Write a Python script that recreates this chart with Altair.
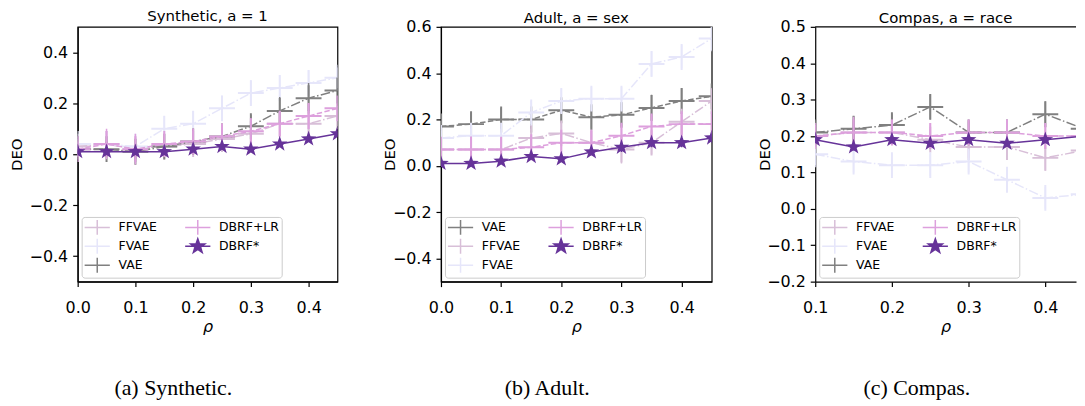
import math
import altair as alt
import pandas as pd

SERIES = ["FFVAE", "FVAE", "VAE", "DBRF+LR", "DBRF*"]
COLORS = ["#D8BFD8", "#E6E6FA", "#808080", "#DDA0DD", "#663399"]

RHO_AB = [0.0, 0.05, 0.1, 0.15, 0.2, 0.25, 0.3, 0.35, 0.4, 0.45]
RHO_C = [0.1, 0.15, 0.2, 0.25, 0.3, 0.35, 0.4, 0.45]

# Synthetic, a = 1
SYN_FFVAE = [0.03, 0.04, 0.02, 0.03, 0.04, 0.06, 0.08, 0.12, 0.12, 0.15]
SYN_FVAE = [0.04, 0.04, 0.03, 0.10, 0.12, 0.18, 0.24, 0.26, 0.28, 0.30]
SYN_VAE = [0.02, 0.02, 0.01, 0.03, 0.05, 0.07, 0.11, 0.17, 0.22, 0.25]
SYN_LR = [0.02, 0.04, 0.02, 0.04, 0.05, 0.07, 0.09, 0.12, 0.15, 0.18]
SYN_DBRF = [0.01, 0.01, 0.01, 0.01, 0.02, 0.03, 0.02, 0.04, 0.06, 0.08]
SYN_FFVAE_E = [0.03, 0.05, 0.04, 0.03, 0.03, 0.04, 0.04, 0.05, 0.05, 0.04]
SYN_FVAE_E = [0.03, 0.03, 0.03, 0.05, 0.05, 0.05, 0.05, 0.05, 0.05, 0.04]
SYN_VAE_E = [0.02, 0.03, 0.03, 0.04, 0.03, 0.04, 0.045, 0.055, 0.06, 0.05]
SYN_LR_E = [0.03, 0.06, 0.06, 0.04, 0.04, 0.05, 0.05, 0.05, 0.05, 0.05]
SYN_DBRF_E = [0.01, 0.01, 0.01, 0.01, 0.01, 0.01, 0.01, 0.01, 0.01, 0.01]

# Adult, a = sex
ADU_FFVAE = [0.07, 0.07, 0.07, 0.12, 0.14, 0.10, 0.07, 0.10, 0.19, 0.28]
ADU_FVAE = [0.12, 0.13, 0.13, 0.23, 0.28, 0.29, 0.29, 0.44, 0.47, 0.55]
ADU_VAE = [0.17, 0.18, 0.20, 0.20, 0.24, 0.21, 0.22, 0.25, 0.28, 0.30]
ADU_LR = [0.07, 0.07, 0.07, 0.08, 0.10, 0.10, 0.13, 0.17, 0.18, 0.18]
ADU_DBRF = [0.01, 0.01, 0.02, 0.04, 0.03, 0.06, 0.08, 0.10, 0.10, 0.12]
ADU_FFVAE_E = [0.03, 0.03, 0.03, 0.04, 0.05, 0.05, 0.06, 0.05, 0.05, 0.05]
ADU_FVAE_E = [0.03, 0.03, 0.03, 0.05, 0.05, 0.05, 0.05, 0.055, 0.05, 0.05]
ADU_VAE_E = [0.03, 0.05, 0.05, 0.04, 0.05, 0.05, 0.05, 0.057, 0.055, 0.04]
ADU_LR_E = [0.03, 0.057, 0.05, 0.05, 0.05, 0.05, 0.05, 0.05, 0.05, 0.05]
ADU_DBRF_E = [0.01, 0.01, 0.01, 0.01, 0.01, 0.01, 0.02, 0.02, 0.02, 0.02]

# Compas, a = race
COM_FFVAE = [0.20, 0.21, 0.21, 0.19, 0.17, 0.17, 0.14, 0.16]
COM_FVAE = [0.15, 0.13, 0.12, 0.12, 0.13, 0.08, 0.03, 0.04]
COM_VAE = [0.21, 0.22, 0.23, 0.28, 0.21, 0.21, 0.26, 0.22]
COM_LR = [0.20, 0.21, 0.21, 0.20, 0.21, 0.21, 0.20, 0.20]
COM_DBRF = [0.19, 0.17, 0.19, 0.18, 0.19, 0.18, 0.19, 0.20]
COM_FFVAE_E = [0.03, 0.03, 0.03, 0.03, 0.03, 0.035, 0.035, 0.03]
COM_FVAE_E = [0.03, 0.03, 0.03, 0.03, 0.03, 0.034, 0.03, 0.03]
COM_VAE_E = [0.03, 0.035, 0.03, 0.034, 0.03, 0.03, 0.035, 0.03]
COM_LR_E = [0.03, 0.043, 0.035, 0.035, 0.035, 0.035, 0.035, 0.03]
COM_DBRF_E = [0.01, 0.01, 0.01, 0.01, 0.01, 0.01, 0.01, 0.01]


def frame(rho, vals, errs):
    rows = []
    for s in SERIES:
        for r, v, e in zip(rho, vals[s], errs[s]):
            rows.append({"series": s, "rho": r, "deo": v, "lo": v - e, "hi": v + e})
    return pd.DataFrame(rows)


df_syn = frame(RHO_AB,
               {"FFVAE": SYN_FFVAE, "FVAE": SYN_FVAE, "VAE": SYN_VAE, "DBRF+LR": SYN_LR, "DBRF*": SYN_DBRF},
               {"FFVAE": SYN_FFVAE_E, "FVAE": SYN_FVAE_E, "VAE": SYN_VAE_E, "DBRF+LR": SYN_LR_E, "DBRF*": SYN_DBRF_E})
df_adu = frame(RHO_AB,
               {"FFVAE": ADU_FFVAE, "FVAE": ADU_FVAE, "VAE": ADU_VAE, "DBRF+LR": ADU_LR, "DBRF*": ADU_DBRF},
               {"FFVAE": ADU_FFVAE_E, "FVAE": ADU_FVAE_E, "VAE": ADU_VAE_E, "DBRF+LR": ADU_LR_E, "DBRF*": ADU_DBRF_E})
df_com = frame(RHO_C,
               {"FFVAE": COM_FFVAE, "FVAE": COM_FVAE, "VAE": COM_VAE, "DBRF+LR": COM_LR, "DBRF*": COM_DBRF},
               {"FFVAE": COM_FFVAE_E, "FVAE": COM_FVAE_E, "VAE": COM_VAE_E, "DBRF+LR": COM_LR_E, "DBRF*": COM_DBRF_E})

DASH = [5.5, 2.4]
DASHDOT = [9.6, 2.4, 1.5, 2.4]


def star_path(cx):
    pts = []
    for i in range(10):
        a = math.radians(-90 + 36 * i)
        r = 1.0 if i % 2 == 0 else 0.4
        pts.append(f"{cx + r * math.cos(a):.3f},{r * math.sin(a):.3f}")
    return "M" + "L".join(pts) + "Z"


CROSS = "M-1,0L1,0M0,-1L0,1"
STAR = star_path(0)
LEG_CX = 0.6875
LEG_LINE = "M-1,0L2.375,0"
LEG_CROSS = LEG_LINE + f"M{LEG_CX},-1L{LEG_CX},1"
LEG_STAR = LEG_LINE + star_path(LEG_CX)

FONT = "DejaVu Sans"
PLOT_H = 256


def make_panel(df, draw_order, dashes, xdom, xticks, ydom, yticks, width,
               legend_order, title, caption, ytitle_pad, title_offset,
               open_right=False):
    xs = alt.Scale(domain=xdom, nice=False, zero=False)
    ys = alt.Scale(domain=ydom, nice=False, zero=False)
    xax = alt.Axis(values=xticks, format=".1f", title="ρ", labelFlush=False,
                   labelOverlap=False, titleFontStyle="italic", titleFontSize=16,
                   titlePadding=3.5, labelPadding=13)
    yax = alt.Axis(values=yticks, format=".1f", title="DEO", labelFlush=False,
                   labelOverlap=False, titlePadding=ytitle_pad, labelPadding=5)
    X = alt.X("rho:Q", scale=xs, axis=xax)
    Y = alt.Y("deo:Q", scale=ys, axis=yax)
    layers = []
    for s in draw_order:
        c = COLORS[SERIES.index(s)]
        base = alt.Chart(df).transform_filter(alt.datum.series == s)
        kw = dict(color=c, strokeWidth=1.5, clip=True)
        if dashes[s]:
            kw["strokeDash"] = dashes[s]
        layers.append(base.mark_line(**kw).encode(x=X, y=Y))
        layers.append(base.mark_rule(color=c, strokeWidth=1.5, clip=True).encode(
            x=X, y=alt.Y("lo:Q", scale=ys, axis=yax), y2="hi:Q"))
        if s == "DBRF*":
            pt = base.mark_point(shape=STAR, size=270, filled=True, color=c,
                                 opacity=1, clip=True)
        else:
            pt = base.mark_point(shape=CROSS, size=676, filled=False, color=c,
                                 opacity=1, strokeWidth=2, clip=True)
        layers.append(pt.encode(x=X, y=Y))

    if open_right:
        # top spine (the right edge of this panel runs off the page)
        layers.append(
            alt.Chart(df).transform_aggregate(n="count()").mark_rule(
                color="black", strokeWidth=1.2).encode(
                x=alt.XDatum(xdom[0], scale=xs, axis=xax),
                x2=alt.X2Datum(xdom[1]),
                y=alt.YDatum(ydom[1], scale=ys, axis=yax))
        )

    leg_colors = [COLORS[SERIES.index(s)] for s in legend_order]
    leg_shapes = [LEG_STAR if s == "DBRF*" else LEG_CROSS for s in legend_order]
    LEG = alt.Legend(title=None, orient="bottom-left", offset=4, columns=2,
                     columnPadding=25, rowPadding=-5.5, padding=2,
                     strokeColor="#cccccc", fillColor="rgba(255,255,255,0.8)",
                     cornerRadius=3, labelFont=FONT, labelFontSize=12.5,
                     labelColor="black", symbolSize=225, symbolStrokeWidth=1.5,
                     labelOffset=18, symbolOpacity=1)
    legend_layer = alt.Chart(df).transform_filter("false").mark_point(
        filled=True, opacity=1, strokeWidth=1.5).encode(
        stroke=alt.Stroke("series:N", scale=alt.Scale(domain=legend_order, range=leg_colors), legend=LEG),
        fill=alt.Fill("series:N", scale=alt.Scale(domain=legend_order, range=leg_colors), legend=LEG),
        shape=alt.Shape("series:N", scale=alt.Scale(domain=legend_order, range=leg_shapes), legend=LEG),
    )
    layers.append(legend_layer)

    props = dict(
        width=width, height=PLOT_H,
        title=alt.Title(title, font=FONT, fontSize=15, fontWeight="normal",
                        color="black", frame="group", anchor="middle",
                        offset=title_offset),
    )
    if open_right:
        props["view"] = alt.ViewBackground(stroke=None)
    panel = alt.layer(*layers).properties(**props)
    return alt.vconcat(
        panel,
        title=alt.Title(caption, orient="bottom", font="Liberation Serif",
                        fontSize=22, fontWeight="normal", color="black",
                        anchor="middle", offset=43),
    ).resolve_scale(stroke="independent", fill="independent", shape="independent")


ORDER_1 = ["FFVAE", "FVAE", "VAE", "DBRF+LR", "DBRF*"]
ORDER_2 = ["VAE", "FFVAE", "FVAE", "DBRF+LR", "DBRF*"]
LEG_1 = ["FFVAE", "FVAE", "VAE", "DBRF+LR", "DBRF*"]
LEG_2 = ["VAE", "FFVAE", "FVAE", "DBRF+LR", "DBRF*"]

dash_1 = {"FFVAE": DASHDOT, "FVAE": DASHDOT, "VAE": DASHDOT, "DBRF+LR": DASH, "DBRF*": None}
dash_2 = {"FFVAE": DASHDOT, "FVAE": DASHDOT, "VAE": DASH, "DBRF+LR": DASH, "DBRF*": None}

p1 = make_panel(df_syn, ORDER_1, dash_1, [0.0, 0.45], [0.0, 0.1, 0.2, 0.3, 0.4],
                [-0.5, 0.5], [-0.4, -0.2, 0.0, 0.2, 0.4], 261, LEG_1,
                "Synthetic, a = 1", "(a) Synthetic.", 5, 3)
p2 = make_panel(df_adu, ORDER_2, dash_2, [0.0, 0.45], [0.0, 0.1, 0.2, 0.3, 0.4],
                [-0.5, 0.6], [-0.4, -0.2, 0.0, 0.2, 0.4, 0.6], 272, LEG_2,
                "Adult, a = sex", "(b) Adult.", -5.5, -7.4)
p3 = make_panel(df_com, ORDER_1, dash_1, [0.1, 0.44], [0.1, 0.2, 0.3, 0.4],
                [-0.2, 0.5], [-0.2, -0.1, 0.0, 0.1, 0.2, 0.3, 0.4, 0.5], 262, LEG_1,
                "Compas, a = race", "(c) Compas.", -5.5, -7.4, open_right=True)

chart = alt.hconcat(p1, p2, p3, spacing=44).resolve_scale(
    stroke="independent", fill="independent", shape="independent"
).properties(
    padding={"left": 0, "top": -1, "right": 0, "bottom": 0}, background="white"
).configure_view(
    stroke="black", strokeWidth=1.2
).configure_axis(
    labelFont=FONT, labelFontSize=16, labelColor="black",
    tickColor="black", tickSize=5, tickWidth=1.2,
    domainColor="black", domainWidth=1.2, grid=False,
    titleFont=FONT, titleFontSize=15, titleFontWeight="normal", titleColor="black",
)

chart.save("out.html", embed_options={"renderer": "svg", "actions": False})
